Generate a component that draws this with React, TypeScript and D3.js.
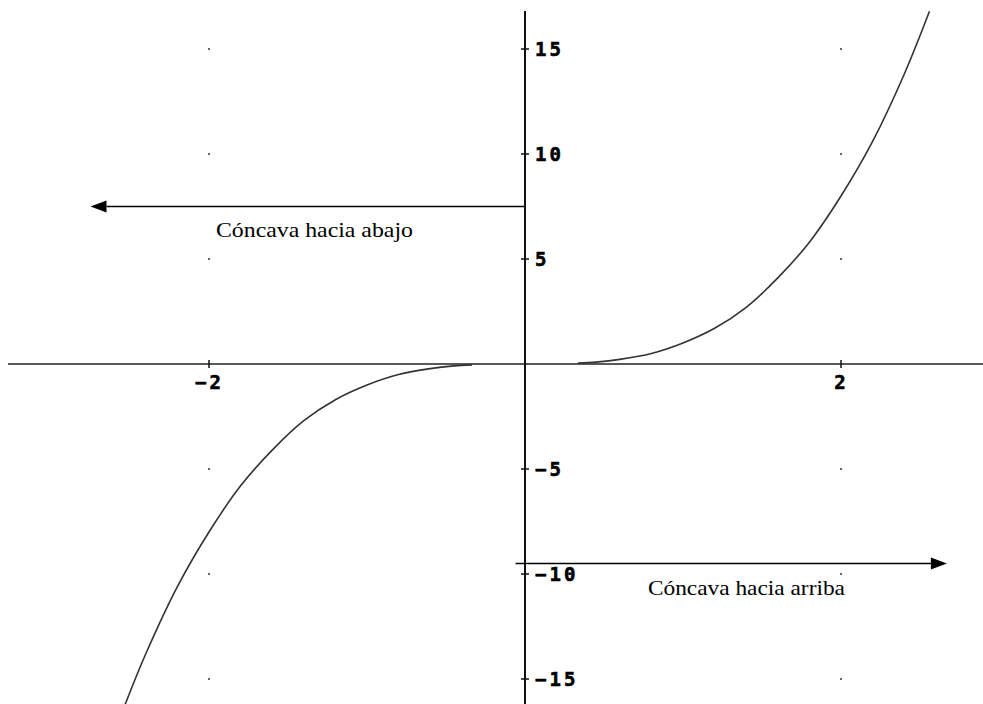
import React from "react";
import * as d3 from "d3";

// values (y = x^3, gap near origin)
const leftX = [-2.53, -2.4, -2.2, -2.0, -1.8, -1.6, -1.4, -1.2, -1.0, -0.8, -0.6, -0.45, -0.335];
const leftY = [-16.2, -13.8, -10.6, -8.0, -5.8, -4.1, -2.7, -1.7, -1.0, -0.5, -0.22, -0.09, -0.04];
const rightX = [0.335, 0.45, 0.6, 0.8, 1.0, 1.2, 1.4, 1.6, 1.8, 2.0, 2.2, 2.4, 2.56];
const rightY = [0.04, 0.09, 0.22, 0.5, 1.0, 1.7, 2.7, 4.1, 5.8, 8.0, 10.6, 13.8, 16.8];

const xTicks = [-2, 2];
const yTicks = [-15, -10, -5, 5, 10, 15];

const notes = [
  { text: "Cóncava hacia abajo", from: 0, to: -2.75, yVal: 7.5, tx: -1.956, ty: 6.05 },
  { text: "Cóncava hacia arriba", from: -0.06, to: 2.67, yVal: -9.5, tx: 0.778, ty: -11.0 },
];

const W = 983;
const H = 704;

export default function App() {
  const x = d3.scaleLinear().domain([-2, 2]).range([209, 841]);
  const y = d3.scaleLinear().domain([-15, 15]).range([679, 49]);

  const line = d3
    .line<[number, number]>()
    .x((d) => x(d[0]))
    .y((d) => y(d[1]))
    .curve(d3.curveCatmullRom);

  const leftPts = leftX.map((v, i) => [v, leftY[i]] as [number, number]);
  const rightPts = rightX.map((v, i) => [v, rightY[i]] as [number, number]);

  const tickFont = {
    fontFamily: "'DejaVu Sans Mono', monospace",
    fontWeight: 700,
    fontSize: 19,
    letterSpacing: 3,
    stroke: "#000",
    strokeWidth: 0.6,
  };
  const fmt = (t: number) => (t < 0 ? `\u2212${Math.abs(t)}` : `${t}`);

  return (
    <svg
      width={W}
      height={H}
      style={{ position: "absolute", left: 0, top: 0, background: "#fff" }}
    >
      {/* grid dots */}
      {xTicks.map((tx) =>
        yTicks.map((ty) => (
          <rect key={`${tx}_${ty}`} x={x(tx) - 1} y={y(ty) - 1} width={2} height={2} fill="#666" />
        ))
      )}

      {/* axes */}
      <line x1={8} x2={W} y1={y(0)} y2={y(0)} stroke="#222" strokeWidth={1.5} />
      <line x1={x(0)} x2={x(0)} y1={11} y2={H} stroke="#111" strokeWidth={2} />

      {xTicks.map((t) => (
        <g key={t}>
          <line x1={x(t)} x2={x(t)} y1={y(0) - 4} y2={y(0) + 4} stroke="#111" strokeWidth={1.5} />
          <text x={x(t) + 0.5} y={y(0) + 19} textAnchor="middle" dominantBaseline="middle" {...tickFont}>
            {fmt(t)}
          </text>
        </g>
      ))}
      {yTicks.map((t) => (
        <g key={t}>
          <line x1={x(0) - 4} x2={x(0) + 4} y1={y(t)} y2={y(t)} stroke="#111" strokeWidth={1.5} />
          <text x={x(0) + 10} y={y(t) + 1} dominantBaseline="middle" {...tickFont}>
            {fmt(t)}
          </text>
        </g>
      ))}

      {/* curve */}
      <path d={line(leftPts) ?? ""} fill="none" stroke="#333" strokeWidth={1.6} />
      <path d={line(rightPts) ?? ""} fill="none" stroke="#333" strokeWidth={1.6} />

      {/* annotation arrows */}
      {notes.map((n) => {
        const x1 = x(n.from);
        const x2 = x(n.to);
        const yy = y(n.yVal);
        const dir = x2 > x1 ? 1 : -1;
        const head = 16;
        return (
          <g key={n.text}>
            <line x1={x1} x2={x2 - dir * head} y1={yy} y2={yy} stroke="#000" strokeWidth={1.5} />
            <path
              d={`M${x2},${yy} L${x2 - dir * head},${yy - 6} L${x2 - dir * head},${yy + 6} Z`}
              fill="#000"
            />
            <text
              x={x(n.tx)}
              y={y(n.ty)}
              fontFamily="'Liberation Serif', 'Times New Roman', serif"
              fontSize={21.5}
              textLength={197}
              lengthAdjust="spacingAndGlyphs"
              fill="#000"
            >
              {n.text}
            </text>
          </g>
        );
      })}
    </svg>
  );
}
